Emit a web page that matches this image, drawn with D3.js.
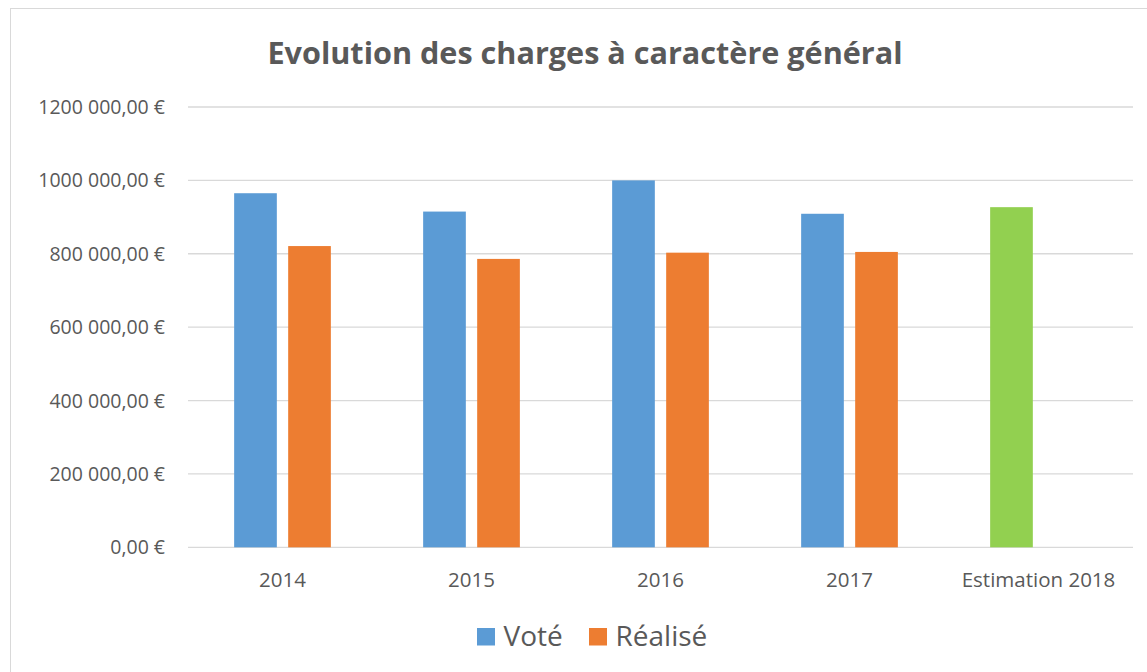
<!DOCTYPE html>
<html>
<head>
<meta charset="utf-8">
<script src="https://cdn.jsdelivr.net/npm/d3@7"></script>
<style>
  body { margin: 0; background: #fff; }
  svg text { font-family: "Open Sans", "Noto Sans", sans-serif; fill: #595959; }
</style>
</head>
<body>
<div id="vis"></div>
<script>
const categories = ["2014", "2015", "2016", "2017", "Estimation 2018"];
const vote = [965000, 915000, 1000000, 909000, 927000];
const realise = [821000, 786000, 803000, 805000, null];
const tickValues = [0, 200000, 400000, 600000, 800000, 1000000, 1200000];
const tickLabels = ["0,00 €", "200 000,00 €", "400 000,00 €", "600 000,00 €", "800 000,00 €", "1000 000,00 €", "1200 000,00 €"];
const seriesNames = ["Voté", "Réalisé"];

const [width, height] = [1147, 672];
const colors = { vote: "#5B9BD5", realise: "#ED7D31", estimation: "#92D050" };

const svg = d3.select("#vis").append("svg")
  .attr("width", width).attr("height", height);

// chart frame
svg.append("rect")
  .attr("x", 10.5).attr("y", 8.5)
  .attr("width", width + 10).attr("height", height + 10)
  .attr("fill", "none").attr("stroke", "#d9d9d9");

const plot = { left: 188, right: 1133, top: 107, bottom: 547.3 };

const x = d3.scaleBand().domain(categories).range([plot.left, plot.right]);
const inner = d3.scaleBand().domain(["vote", "realise"])
  .range([x.bandwidth() / 2 - 48.35, x.bandwidth() / 2 + 48.35]).paddingInner(0.21);
const y = d3.scaleLinear().domain([0, 1200000]).range([plot.bottom, plot.top]);

// gridlines
svg.append("g").selectAll("line")
  .data(tickValues)
  .join("line")
    .attr("x1", plot.left).attr("x2", plot.right)
    .attr("y1", d => y(d)).attr("y2", d => y(d))
    .attr("stroke", "#d9d9d9").attr("stroke-width", 1.3);

// y axis labels
svg.append("g").selectAll("text")
  .data(tickValues)
  .join("text")
    .attr("x", 165).attr("y", d => y(d))
    .attr("dy", "0.36em")
    .attr("text-anchor", "end")
    .attr("font-size", 19.5)
    .text((d, i) => tickLabels[i]);

// bars
const rows = categories.map((c, i) => ({ c, vote: vote[i], realise: realise[i], est: c.startsWith("Estimation") }));
const g = svg.append("g").selectAll("g")
  .data(rows)
  .join("g")
    .attr("transform", d => `translate(${x(d.c)},0)`);

g.append("rect")
  .attr("x", inner("vote"))
  .attr("width", inner.bandwidth())
  .attr("y", d => y(d.vote))
  .attr("height", d => y(0) - y(d.vote))
  .attr("fill", d => d.est ? colors.estimation : colors.vote);

g.filter(d => d.realise != null).append("rect")
  .attr("x", inner("realise"))
  .attr("width", inner.bandwidth())
  .attr("y", d => y(d.realise))
  .attr("height", d => y(0) - y(d.realise))
  .attr("fill", colors.realise);

// x labels
svg.append("g").selectAll("text")
  .data(categories)
  .join("text")
    .attr("x", d => x(d) + x.bandwidth() / 2)
    .attr("y", 587)
    .attr("text-anchor", "middle")
    .attr("font-size", 20.5)
    .text(d => d);

// title
svg.append("text")
  .attr("x", 585).attr("y", 64)
  .attr("text-anchor", "middle")
  .attr("font-size", 30.6)
  .attr("font-weight", "bold")
  .text("Evolution des charges à caractère général");

// legend
const legend = svg.append("g");
const legendItems = [
  { name: seriesNames[0], color: colors.vote, x: 477 },
  { name: seriesNames[1], color: colors.realise, x: 589 }
];
const li = legend.selectAll("g").data(legendItems).join("g")
  .attr("transform", d => `translate(${d.x},628)`);
li.append("rect").attr("width", 18).attr("height", 17.5).attr("fill", d => d.color);
li.append("text").attr("x", 26.5).attr("y", 18).attr("font-size", 28).text(d => d.name);
</script>
</body>
</html>
